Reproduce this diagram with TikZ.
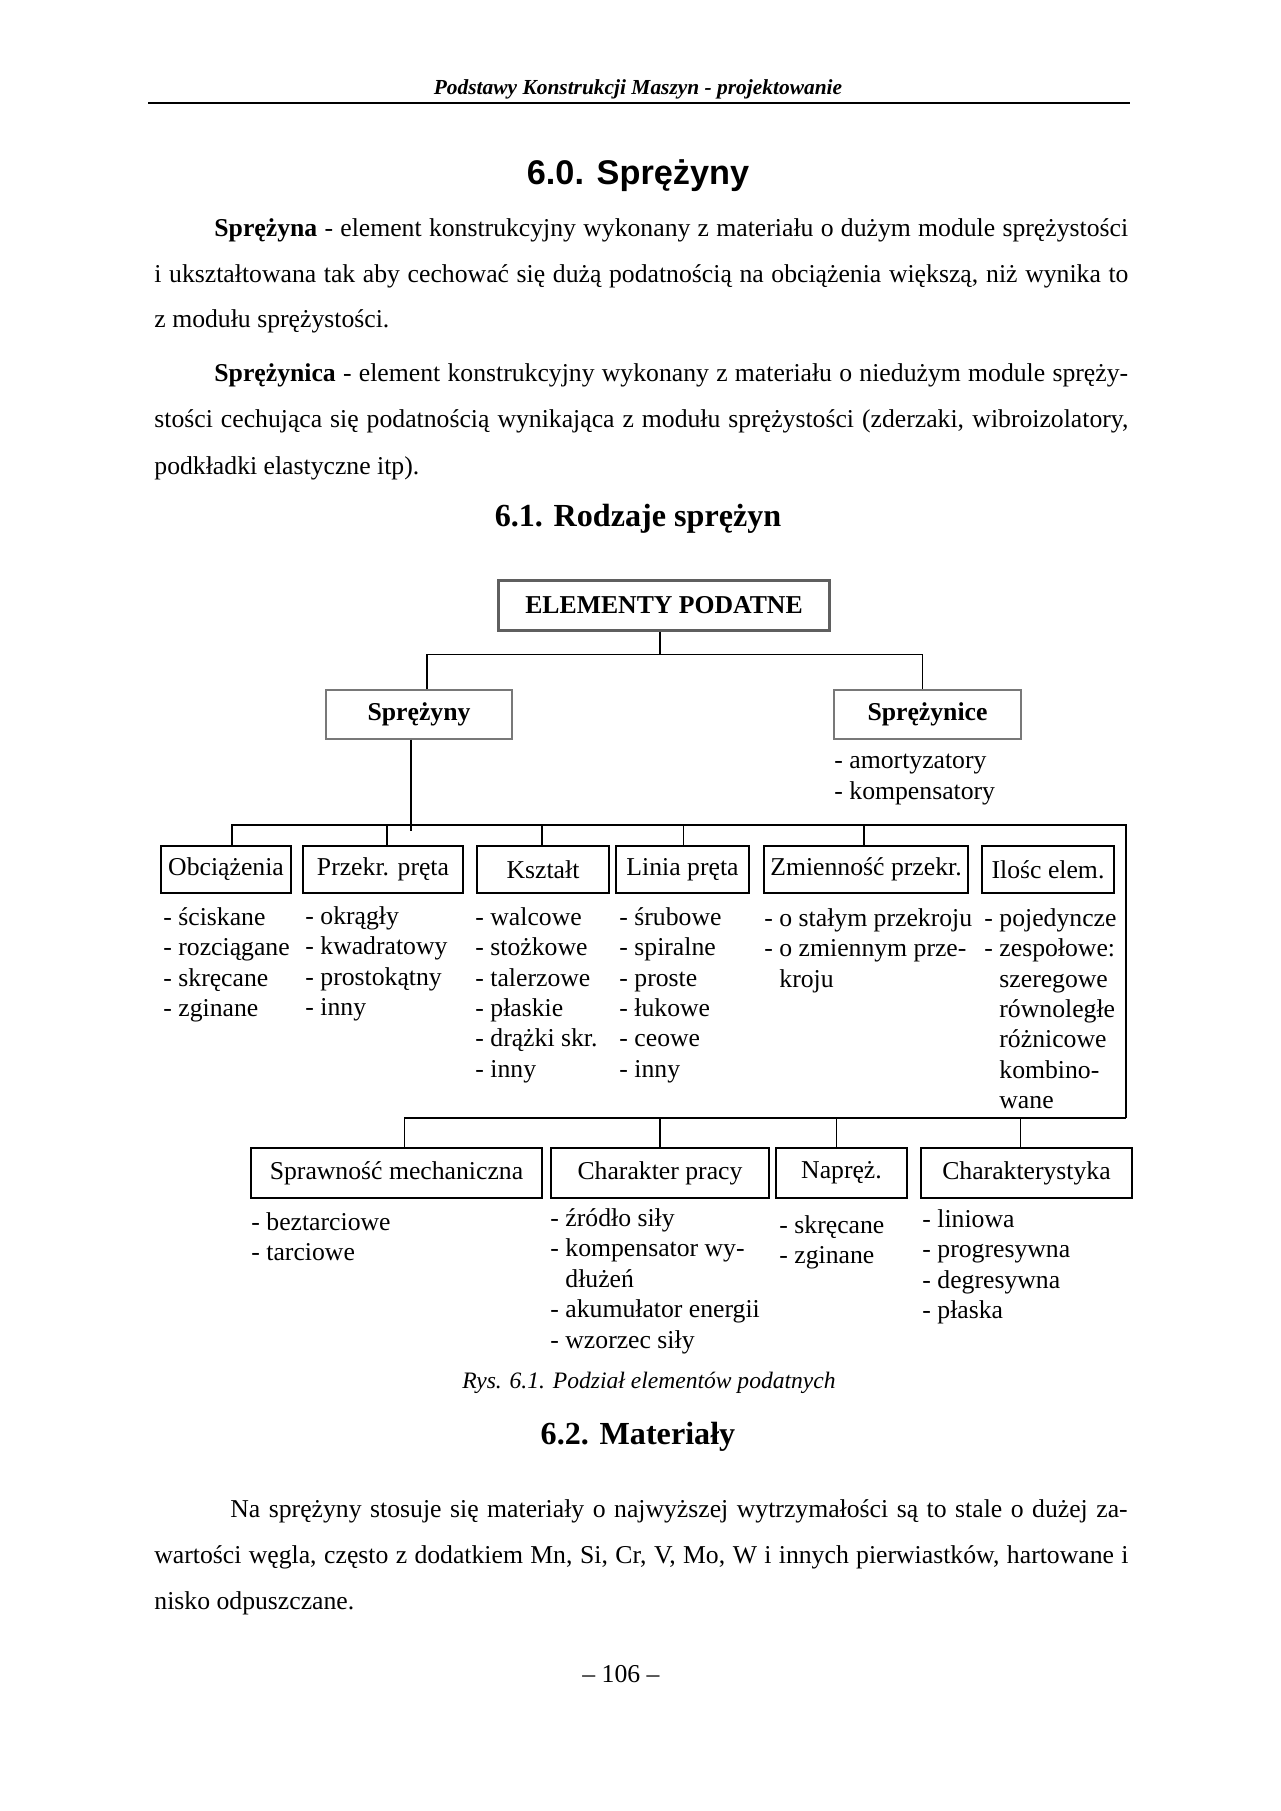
\documentclass[tikz,border=0pt]{standalone}
\usepackage{fontspec}
\setmainfont{Liberation Serif}
\setsansfont{Liberation Sans}
\usepackage{tikz}
\usetikzlibrary{positioning, calc}
\definecolor{mydark}{RGB}{0,0,0}
\definecolor{mgframe}{RGB}{95,95,95}
\definecolor{lgframe}{RGB}{120,120,120}
\newcommand{\pxl}{0.16406mm}
\newcommand{\txt}{\fontsize{12}{14.2}\selectfont}
\tikzset{
  topblock/.style={rectangle, draw=mgframe, line width=1.4pt,
    font=\txt\bfseries, inner sep=0pt},
  midblock/.style={rectangle, draw=lgframe, line width=0.6pt,
    font=\txt\bfseries, inner sep=0pt},
  block/.style={rectangle, draw=mydark, line width=0.9pt,
    font=\txt, inner sep=0pt},
  wh/.style 2 args={minimum width={#1*\pxl}, minimum height={#2*\pxl}},
  items/.style={anchor=north west, align=left, inner sep=0pt, font=\txt},
  line/.style={line width=0.8pt, color=mydark},
  textline/.style={anchor=base west, inner sep=0pt, font=\fontsize{12}{14.4}\selectfont},
  heading/.style={anchor=base, inner sep=0pt, font=\fontsize{15}{18}\selectfont\bfseries}
}

\begin{document}
\begin{tikzpicture}[x=\pxl, y=-\pxl]
  \useasboundingbox (0,0) rectangle (1280,1811);
  \fill[white] (0,0) rectangle (1280,1811);
  % Running head
  \node[anchor=base, inner sep=0pt, font=\fontsize{10}{12}\selectfont\bfseries\itshape] (head) at (638,94)
    {Podstawy Konstrukcji Maszyn - projektowanie};
  \draw[line width=0.8pt] (148,103) -- (1130,103);
  % 6.0
  \node[anchor=base, inner sep=0pt, font=\sffamily\bfseries\fontsize{16}{19}\selectfont] (sec60) at (638,184) {6.0. Sprężyny};
  \node[textline] (p1a) at (214,236) {\makebox[149.9mm][s]{\textbf{Sprężyna} - element konstrukcyjny wykonany z materiału o dużym module sprężystości}};
  \node[textline] (p1b) at (154,282) {\makebox[159.8mm][s]{i ukształtowana tak aby cechować się dużą podatnością na obciążenia większą, niż wynika to}};
  \node[textline] (p1c) at (154,327) {z modułu sprężystości.};
  \node[textline] (p2a) at (214,381) {\makebox[149.9mm][s]{\textbf{Sprężynica} - element konstrukcyjny wykonany z materiału o niedużym module spręży-}};
  \node[textline] (p2b) at (154,427) {\makebox[159.8mm][s]{stości cechująca się podatnością wynikająca z modułu sprężystości (zderzaki, wibroizolatory,}};
  \node[textline] (p2c) at (154,474) {podkładki elastyczne itp).};
  % 6.1
  \node[heading] (sec61) at (638,526) {6.1. Rodzaje sprężyn};
  % Top of the tree
  \node[topblock, wh={331}{50}] (elem) at (664,605) {ELEMENTY PODATNE};
  \node[midblock, wh={186}{49}] (spr) at (419,714.5) {Sprężyny};
  \node[midblock, wh={187}{49}] (sprc) at (927.5,714.5) {Sprężynice};
  \node[items] (sprc-l) at (834,754) {- amortyzatory\\- kompensatory};
  \draw[line] (elem.south) ++(-4,0) -- ++(0,23) coordinate (b1);
  \draw[line] ($(spr.north)+(8,0)$) |- (b1) -| ($(sprc.north)+(-5,0)$);
  % Level 2 boxes
  \foreach \n/\x/\w/\lbl in {obc/226/130/Obciążenia, prz/383/160/Przekr. pręta,
      ksz/543/132/Kształt, lin/682.5/133/Linia pręta, zmn/866/204/Zmienność przekr.,
      ilo/1048/132/Ilośc elem.}
    \node[block, wh={\w}{47}] (\n) at (\x,869.5) {\lbl};
  \coordinate (busE) at (1126,825);
  \coordinate (busS) at (1126,1118);
  \draw[line] ($(obc.north)+(6,0)$) |- (busE) -- (busS);
  \foreach \n/\dx in {prz/4,ksz/-1,lin/1,zmn/-2}
    \draw[line] ($(\n.north)+(\dx,0)$) -- ($(\n.north |- busE)+(\dx,0)$);
  \draw[line] ($(spr.south)+(-8,0)$) -- ($(spr.south |- busE)+(-8,6)$);
  % Level 2 lists
  \node[items] (obc-l) at (163,907) {- ściskane\\- rozciągane\\- skręcane\\- zginane};
  \node[items] (prz-l) at (305,906) {- okrągły\\- kwadratowy\\- prostokątny\\- inny};
  \node[items] (ksz-l) at (475,907) {- walcowe\\- stożkowe\\- talerzowe\\- płaskie\\- drążki skr.\\- inny};
  \node[items] (lin-l) at (619,907) {- śrubowe\\- spiralne\\- proste\\- łukowe\\- ceowe\\- inny};
  \node[items] (zmn-l) at (764,908) {- o stałym przekroju\\- o zmiennym prze-\\\phantom{- }kroju};
  \node[items] (ilo-l) at (984,908) {- pojedyncze\\- zespołowe:\\\phantom{- }szeregowe\\\phantom{- }równoległe\\\phantom{- }różnicowe\\\phantom{- }kombino-\\\phantom{- }wane};
  % Level 3 boxes
  \foreach \n/\x/\w/\lbl in {spm/396.5/291/Sprawność mechaniczna, chp/660/218/Charakter pracy,
      nap/841.5/131/Napręż., chk/1026.5/211/Charakterystyka}
    \node[block, wh={\w}{50}] (\n) at (\x,1173) {\lbl};
  \draw[line] (busS) -| ($(spm.north)+(8,0)$);
  \foreach \n/\dx in {chp/0,nap/-5,chk/-6}
    \draw[line] ($(\n.north)+(\dx,0)$) -- ($(\n.north |- busS)+(\dx,0)$);
  % Level 3 lists
  \node[items] (spm-l) at (251,1212) {- beztarciowe\\- tarciowe};
  \node[items] (chp-l) at (550,1208) {- źródło siły\\- kompensator wy-\\\phantom{- }dłużeń\\- akumułator energii\\- wzorzec siły};
  \node[items] (nap-l) at (779,1215) {- skręcane\\- zginane};
  \node[items] (chk-l) at (922,1209) {- liniowa\\- progresywna\\- degresywna\\- płaska};
  \node[anchor=base, inner sep=0pt, font=\fontsize{11}{13}\selectfont\itshape] (cap) at (649,1388)
    {Rys. 6.1. Podział elementów podatnych};
  % 6.2
  \node[heading] (sec62) at (638,1444) {6.2. Materiały};
  \node[textline] (p3a) at (230,1517) {\makebox[147.2mm][s]{Na sprężyny stosuje się materiały o najwyższej wytrzymałości są to stale o dużej za-}};
  \node[textline] (p3b) at (154,1563) {\makebox[159.8mm][s]{wartości węgla, często z dodatkiem Mn, Si, Cr, V, Mo, W i innych pierwiastków, hartowane i}};
  \node[textline] (p3c) at (154,1609) {nisko odpuszczane.};
  \node[anchor=base, inner sep=0pt, font=\fontsize{12}{14}\selectfont] (pnum) at (621,1682) {– 106 –};
\end{tikzpicture}
\end{document}
